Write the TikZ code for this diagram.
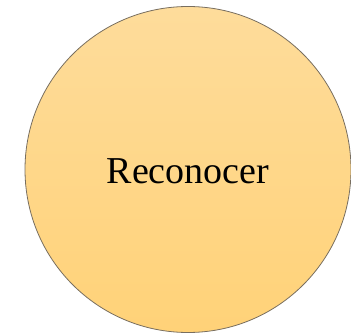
\documentclass[tikz,border=0pt]{standalone}
\usepackage{fontspec}
\setmainfont{Liberation Serif}
\definecolor{topc}{RGB}{254,220,155}
\definecolor{botc}{RGB}{255,210,120}
\definecolor{rim}{RGB}{120,110,95}
\tikzset{bubble/.style={circle, draw=rim, line width=0.8pt, top color=topc, bottom color=botc, minimum size=326pt, inner sep=0pt},
label text/.style={font=\fontsize{38}{40}\selectfont, text=black}}
\begin{document}
\begin{tikzpicture}[x=1pt,y=1pt]
\useasboundingbox (0,0) rectangle (351,335);
\node[bubble] (c) at (188,165.5) {};
\node[label text] (t) at (188,164) {Reconocer};
\end{tikzpicture}
\end{document}
